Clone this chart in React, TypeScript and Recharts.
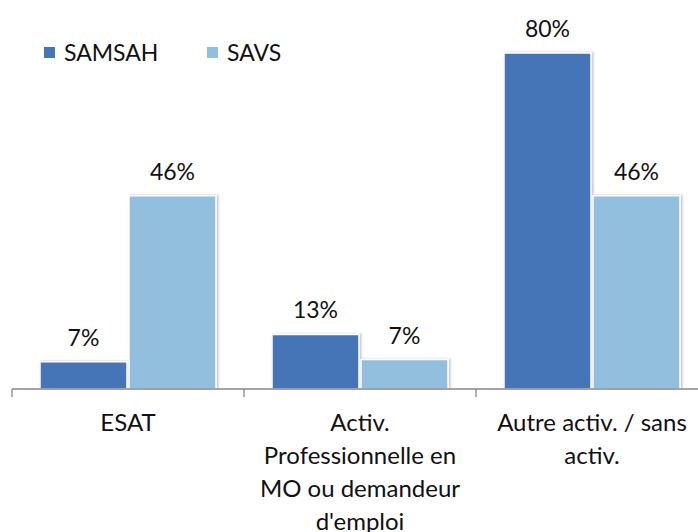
import { Bar, BarChart, LabelList, XAxis, YAxis } from "recharts";

const categories = [
  "ESAT",
  "Activ.\nProfessionnelle en\nMO ou demandeur\nd'emploi",
  "Autre activ. / sans\nactiv.",
];
const samsah = [6.5, 13, 80];
const savs = [46, 7, 46];
const seriesNames = ["SAMSAH", "SAVS"];
const colors = ["#4575B6", "#92BFDD"];

const data = categories.map((name, i) => ({
  name,
  samsah: samsah[i],
  savs: savs[i],
}));

const W = 720;
const H = 532;
const M = { top: 11, right: 12, left: 12, bottom: 0 };
const band = (W - M.left - M.right) / categories.length;
const font = "Lato, 'Open Sans', sans-serif";

function CategoryTick(props: any) {
  const { x, y, payload } = props;
  const lines = String(payload.value).split("\n");
  return (
    <g>
      <line x1={x - band / 2} x2={x - band / 2} y1={y - 8} y2={y} stroke="#868686" strokeWidth={1.3} />
      <text x={x} y={y + 1} textAnchor="middle" fontSize={24} fontFamily={font} fill="#111">
        {lines.map((l, i) => (
          <tspan key={i} x={x} dy={33}>
            {l}
          </tspan>
        ))}
      </text>
    </g>
  );
}

function LegendBox() {
  return (
    <div
      style={{
        position: "absolute",
        top: 38,
        left: 44,
        display: "flex",
        fontFamily: font,
        fontSize: 23,
        color: "#111",
        zIndex: 2,
      }}
    >
      {seriesNames.map((s, i) => (
        <div key={s} style={{ display: "flex", alignItems: "center", width: 163 }}>
          <span style={{ width: 11, height: 11, background: colors[i], marginRight: 9, display: "inline-block" }} />
          {s}
        </div>
      ))}
    </div>
  );
}

const pct = (v: any) => `${Math.round(Number(v))}%`;

export default function App() {
  return (
    <div style={{ position: "fixed", left: 0, top: 0, width: 698, height: 532, overflow: "hidden", background: "#fff" }}>
      <BarChart width={W} height={H} data={data} margin={M} barCategoryGap={28} barGap={2}>
        <defs>
          <filter id="sh" x="-10%" y="-10%" width="130%" height="130%">
            <feDropShadow dx="1.5" dy="0" stdDeviation="1.2" floodColor="#000" floodOpacity="0.25" />
          </filter>
        </defs>
        <XAxis
          dataKey="name"
          height={143}
          axisLine={{ stroke: "#868686", strokeWidth: 1.3 }}
          tickLine={false}
          tick={<CategoryTick />}
          interval={0}
        />
        <YAxis hide domain={[0, 90]} allowDataOverflow />
        <Bar dataKey="samsah" name={seriesNames[0]} fill={colors[0]} stroke="#fff" strokeWidth={1.5} filter="url(#sh)" isAnimationActive={false}>
          <LabelList dataKey="samsah" position="top" offset={16} formatter={pct} fontSize={23} fontFamily={font} fill="#111" />
        </Bar>
        <Bar dataKey="savs" name={seriesNames[1]} fill={colors[1]} stroke="#fff" strokeWidth={1.5} filter="url(#sh)" isAnimationActive={false}>
          <LabelList dataKey="savs" position="top" offset={16} formatter={pct} fontSize={23} fontFamily={font} fill="#111" />
        </Bar>
      </BarChart>
      <LegendBox />
    </div>
  );
}
